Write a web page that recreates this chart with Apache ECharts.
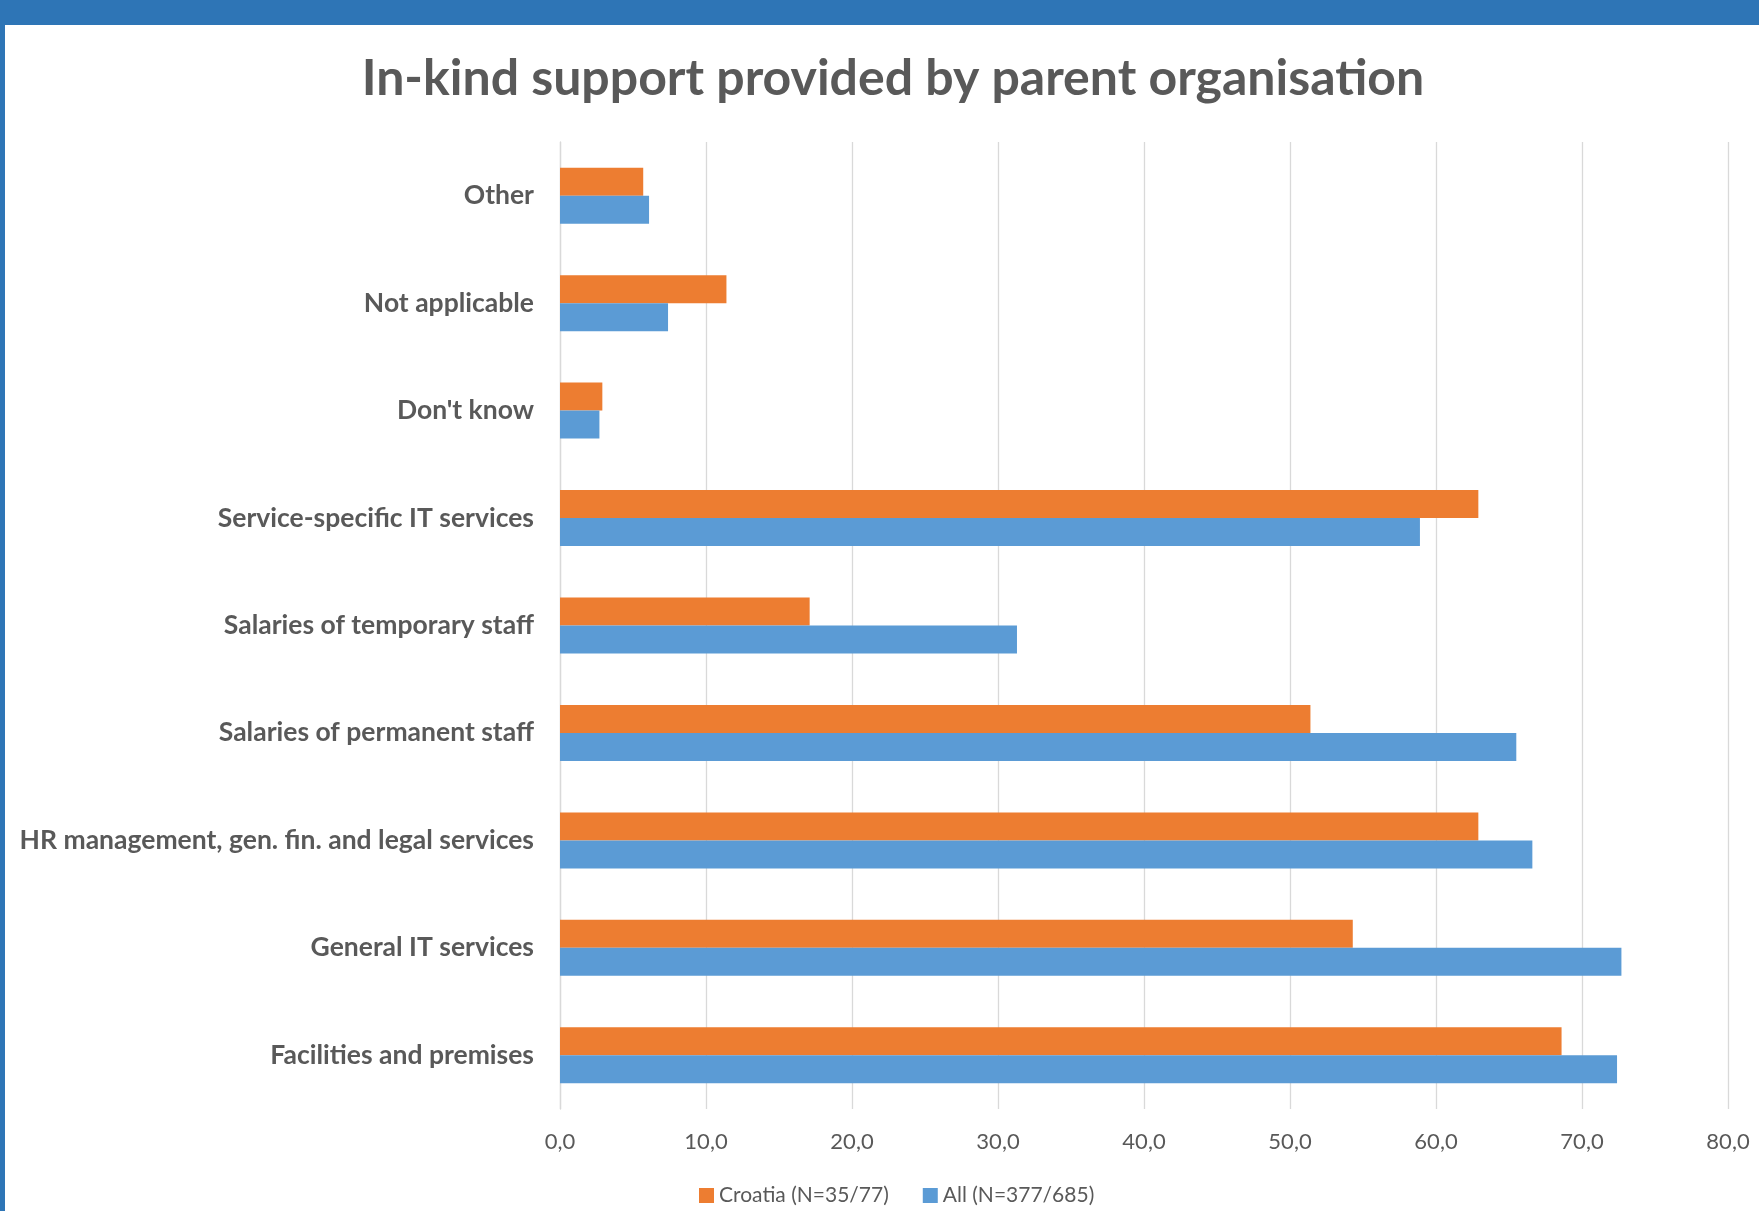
<!DOCTYPE html>
<html>
<head>
<meta charset="utf-8">
<script src="https://cdn.jsdelivr.net/npm/echarts@6/dist/echarts.min.js"></script>
<style>
html,body{margin:0;padding:0;background:#fff;}
#chart{width:1759px;height:1211px;}
</style>
</head>
<body>
<div id="chart"></div>
<script>
const categories = [
  'Facilities and premises',
  'General IT services',
  'HR management, gen. fin. and legal services',
  'Salaries of permanent staff',
  'Salaries of temporary staff',
  'Service-specific IT services',
  "Don't know",
  'Not applicable',
  'Other'
];
const croatiaName = 'Croatia (N=35/77)';
const allName = 'All (N=377/685)';
const croatiaValues = [68.6, 54.3, 62.9, 51.4, 17.1, 62.9, 2.9, 11.4, 5.7];
const allValues = [72.4, 72.7, 66.6, 65.5, 31.3, 58.9, 2.7, 7.4, 6.1];
const xTicks = { min: 0, max: 80, interval: 10 };

const chart = echarts.init(document.getElementById('chart'));
const txt = '#595959';
chart.setOption({
  backgroundColor: '#ffffff',
  animation: false,
  title: {
    text: 'In-kind support provided by parent organisation',
    left: 888,
    textAlign: 'center',
    top: 49,
    textStyle: { fontFamily: 'Lato', fontWeight: 'bold', fontSize: 50, color: txt }
  },
  legend: {
    data: [croatiaName, allName],
    left: 694,
    top: 1180,
    itemWidth: 15,
    itemHeight: 15,
    itemGap: 34,
    icon: 'rect',
    textStyle: { fontFamily: 'Lato', fontSize: 21, color: txt }
  },
  grid: { left: 560, right: 31, top: 142, bottom: 102, containLabel: false },
  xAxis: {
    type: 'value',
    min: xTicks.min, max: xTicks.max, interval: xTicks.interval,
    axisLine: { show: false },
    axisTick: { show: false },
    splitLine: { lineStyle: { color: '#d9d9d9', width: 1.3 } },
    axisLabel: {
      fontFamily: 'Lato', fontSize: 22, color: txt, margin: 22,
      formatter: v => v.toFixed(1).replace('.', ',')
    }
  },
  yAxis: {
    type: 'category',
    data: categories,
    axisLine: { show: true, lineStyle: { color: '#d9d9d9', width: 1.3 } },
    axisTick: { show: false },
    axisLabel: { fontFamily: 'Lato', fontWeight: 'bold', fontSize: 26.5, color: txt, margin: 26, padding: [8, 0, 0, 0] }
  },
  series: [
    {
      name: croatiaName, type: 'bar', data: croatiaValues, barWidth: 28, barGap: '0%',
      itemStyle: { color: '#ED7D31' }
    },
    {
      name: allName, type: 'bar', data: allValues, barWidth: 28, barGap: '0%',
      itemStyle: { color: '#5B9BD5' }
    }
  ],
  graphic: [
    { type: 'rect', left: 0, top: 0, shape: { width: 1759, height: 25 }, style: { fill: '#2E75B6' }, z: 100 },
    { type: 'rect', left: 0, top: 0, shape: { width: 5, height: 1211 }, style: { fill: '#2E75B6' }, z: 100 }
  ]
});
</script>
</body>
</html>
